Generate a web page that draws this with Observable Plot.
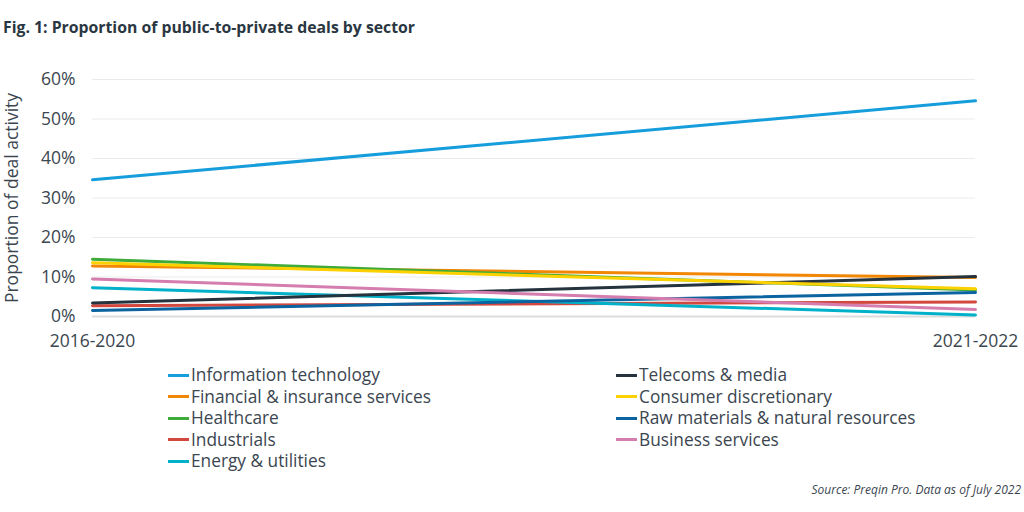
<!DOCTYPE html>
<html>
<head>
<meta charset="utf-8">
<script src="https://cdn.jsdelivr.net/npm/d3@7"></script>
<script src="https://cdn.jsdelivr.net/npm/@observablehq/plot@0.6"></script>
<style>
  html, body { margin: 0; padding: 0; background: #fff; }
  body { width: 1024px; height: 512px; position: relative; overflow: hidden; font-family: "Open Sans", sans-serif; color: #3b4650; }
  #title { position: absolute; left: 3px; top: 16px; font-size: 15.8px; font-weight: 700; color: #2a3742; white-space: nowrap; }
  #chart { position: absolute; left: 0; top: 40px; }
  .leg { position: absolute; font-size: 17.3px; line-height: 20px; white-space: nowrap; color: #3b4650; }
  .sw { display: inline-block; width: 21px; height: 3px; vertical-align: middle; margin-right: 2px; position: relative; top: -1px; }
  #source { position: absolute; right: 3px; top: 481px; font-size: 12px; font-style: italic; color: #3b4650; }
</style>
</head>
<body>
<div id="title">Fig. 1: Proportion of public-to-private deals by sector</div>
<div id="chart"></div>
<div id="legend"></div>
<div id="source">Source: Preqin Pro. Data as of July 2022</div>
<script>
const periods = ["2016-2020", "2021-2022"];
const sectors = [
  "Information technology",
  "Telecoms & media",
  "Financial & insurance services",
  "Consumer discretionary",
  "Healthcare",
  "Raw materials & natural resources",
  "Industrials",
  "Business services",
  "Energy & utilities"
];
const colors = ["#159ddc", "#24333e", "#f28705", "#fbd100", "#3fab3a", "#0b64a0", "#d2483f", "#d47dae", "#00b1c9"];
const values2016_2020 = [0.346, 0.034, 0.128, 0.136, 0.145, 0.015, 0.027, 0.095, 0.073];
const values2021_2022 = [0.546, 0.101, 0.099, 0.070, 0.067, 0.061, 0.037, 0.018, 0.004];
const yTicks = [0, 0.1, 0.2, 0.3, 0.4, 0.5, 0.6];

// draw order (legend column order)
const drawOrder = [0, 2, 4, 6, 8, 1, 3, 5, 7];
const data = [];
for (const i of drawOrder) {
  data.push({sector: sectors[i], period: periods[0], value: values2016_2020[i]});
  data.push({sector: sectors[i], period: periods[1], value: values2021_2022[i]});
}

const chart = Plot.plot({
  width: 1024,
  height: 315,
  marginLeft: 92,
  marginRight: 49,
  marginTop: 39,
  marginBottom: 39,
  style: {fontFamily: "Open Sans", fontSize: "17.5px", color: "#3b4650", background: "transparent"},
  x: {type: "point", domain: periods, padding: 0, label: null},
  y: {domain: [0, 0.6], label: null},
  color: {domain: sectors, range: colors},
  marks: [
    Plot.gridY(yTicks, {stroke: "#ebebeb", strokeOpacity: 1, strokeWidth: 1}),
    Plot.ruleY([0], {stroke: "#dcdcdc", strokeWidth: 2}),
    Plot.axisY(yTicks, {tickSize: 0, tickPadding: 17, tickFormat: d3.format(".0%"), fontSize: 17.5,
      label: "Proportion of deal activity", labelAnchor: "center", labelArrow: "none", labelOffset: 87}),
    Plot.axisX(periods, {tickSize: 0, tickPadding: 18, fontSize: 17.5}),
    Plot.line(data, {x: "period", y: "value", z: "sector", stroke: "sector", strokeWidth: 3, curve: "linear"})
  ]
});
document.getElementById("chart").appendChild(chart);

// legend
const legend = document.getElementById("legend");
const colX = [168, 616];
const rowY = [365, 386.5, 408, 429.5, 451];
sectors.forEach((s, i) => {
  const col = i % 2, row = Math.floor(i / 2);
  const el = document.createElement("div");
  el.className = "leg";
  el.style.left = colX[col] + "px";
  el.style.top = rowY[row] + "px";
  el.innerHTML = `<span class="sw" style="background:${colors[i]}"></span>${s}`;
  legend.appendChild(el);
});
</script>
</body>
</html>
